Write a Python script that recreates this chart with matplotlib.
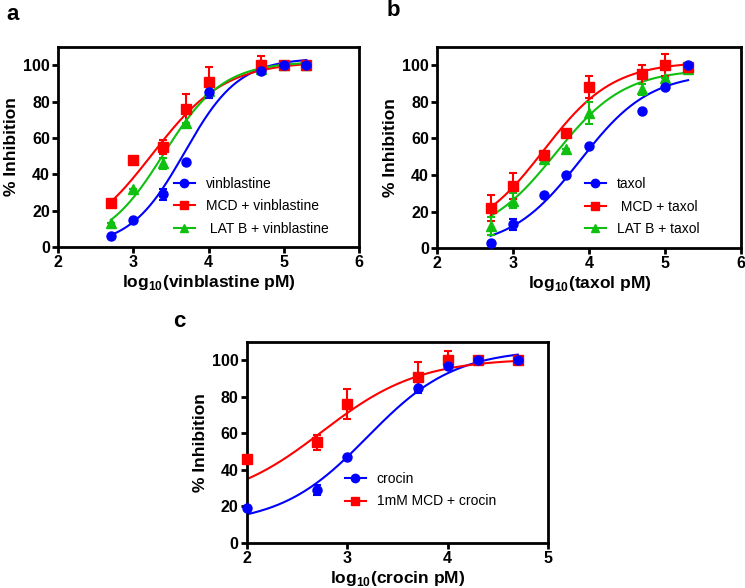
import matplotlib
matplotlib.use('Agg')
import matplotlib.pyplot as plt
import numpy as np

plt.rcParams['font.family'] = ['Liberation Sans', 'DejaVu Sans']
plt.rcParams['mathtext.fontset'] = 'custom'
plt.rcParams['mathtext.rm'] = 'Liberation Sans'
plt.rcParams['mathtext.bf'] = 'Liberation Sans:bold'

# ---- panel a: vinblastine ----
xa = [2.7, 3.0, 3.4, 3.7, 4.0, 4.7, 5.0, 5.3]
vin = [6, 15, 29, 47, 85, 97, 100, 100]
vin_err = [0, 0, 3, 0, 3, 1, 0, 0]
vin_mcd = [24, 48, 55, 76, 91, 100, 100, 100]
vin_mcd_err = [0, 0, 4, 8, 8, 5, 0, 0]
vin_lat = [13, 32, 46, 68, 86, 98, 100, 100]
vin_lat_err = [0, 0, 3, 0, 0, 0, 0, 0]
# fit params: bottom, top, logEC50, hill
fit_vin = [0, 104, 3.68, 1.2]
fit_vin_mcd = [0, 102, 3.25, 0.9]
fit_vin_lat = [0, 102, 3.40, 1.1]

# ---- panel b: taxol ----
xb = [2.7, 3.0, 3.4, 3.7, 4.0, 4.7, 5.0, 5.3]
tax = [3, 13, 29, 40, 56, 75, 88, 100]
tax_err = [0, 3, 0, 0, 0, 0, 0, 0]
tax_mcd = [22, 34, 51, 63, 88, 95, 100, 99]
tax_mcd_err = [7, 7, 0, 0, 6, 5, 6, 0]
tax_lat = [12, 26, 49, 54, 74, 87, 93, 98]
tax_lat_err = [5, 4, 0, 0, 6, 3, 0, 0]
fit_tax = [0, 96, 3.88, 0.95]
fit_tax_mcd = [5, 102, 3.40, 0.95]
fit_tax_lat = [5, 98, 3.55, 0.95]

# ---- panel c: crocin ----
xc = [2.0, 2.7, 3.0, 3.7, 4.0, 4.3, 4.7]
cro = [19, 29, 47, 85, 97, 100, 100]
cro_err = [0, 3, 0, 3, 0, 0, 0]
cro_mcd = [46, 55, 76, 91, 100, 100, 100]
cro_mcd_err = [0, 4, 8, 8, 5, 0, 0]
fit_cro = [10, 106, 3.20, 1.0]
fit_cro_mcd = [21, 101, 2.75, 0.9]

BLUE = '#0000ff'
RED = '#ff0000'
GREEN = '#10c010'


def logistic(x, p):
    b, t, ec, h = p
    return b + (t - b) / (1 + 10 ** ((ec - x) * h))


def series(ax, x, y, err, p, color, marker, label, x0, x1, z):
    xs = np.linspace(x0, x1, 200)
    ax.plot(xs, logistic(xs, p), color=color, lw=1.5, zorder=2)
    ax.errorbar(x, y, yerr=err, fmt='none', ecolor=color, elinewidth=1.5,
                capsize=3, capthick=1.5, zorder=3)
    ax.plot(x, y, marker, color=color, ms=6.5, ls='none', zorder=z, clip_on=False)
    ax.plot([], [], '-' + marker, color=color, ms=6, lw=1.5, label=label)


def style(ax, xlim, xticks, xlabel):
    ax.set_xlim(xlim)
    ax.set_ylim(0, 110)
    ax.set_xticks(xticks)
    ax.set_yticks([0, 20, 40, 60, 80, 100])
    for s in ax.spines.values():
        s.set_linewidth(2)
    ax.tick_params(width=2, length=4, labelsize=11.5, pad=2)
    for lab in ax.get_xticklabels() + ax.get_yticklabels():
        lab.set_fontweight('bold')
    ax.set_ylabel('% Inhibition', fontsize=12.5, fontweight='bold', labelpad=3)
    ax.set_xlabel(xlabel, fontsize=12.5, fontweight='bold', labelpad=2)


def legend(ax, x, y):
    ax.legend(loc='upper left', bbox_to_anchor=(x, y), frameon=False, fontsize=10,
              handlelength=1.5, handletextpad=0.8, labelspacing=0.62,
              borderpad=0, borderaxespad=0)


fig = plt.figure(figsize=(7.45, 5.88), dpi=100)

ax1 = fig.add_axes([0.078, 0.580, 0.404, 0.340])
series(ax1, xa, vin, vin_err, fit_vin, BLUE, 'o', 'vinblastine', 2.7, 5.3, 6)
series(ax1, xa, vin_mcd, vin_mcd_err, fit_vin_mcd, RED, 's', 'MCD + vinblastine', 2.7, 5.3, 5)
series(ax1, xa, vin_lat, vin_lat_err, fit_vin_lat, GREEN, '^', ' LAT B + vinblastine', 2.7, 5.3, 4)
style(ax1, (2, 6), [2, 3, 4, 5, 6], r'log$_{\mathbf{10}}$(vinblastine pM)')
legend(ax1, 0.385, 0.352)

ax2 = fig.add_axes([0.587, 0.578, 0.408, 0.342])
series(ax2, xb, tax, tax_err, fit_tax, BLUE, 'o', 'taxol', 2.7, 5.3, 6)
series(ax2, xb, tax_mcd, tax_mcd_err, fit_tax_mcd, RED, 's', ' MCD + taxol', 2.7, 5.3, 5)
series(ax2, xb, tax_lat, tax_lat_err, fit_tax_lat, GREEN, '^', 'LAT B + taxol', 2.7, 5.3, 4)
style(ax2, (2, 6), [2, 3, 4, 5, 6], r'log$_{\mathbf{10}}$(taxol pM)')
legend(ax2, 0.485, 0.354)

ax3 = fig.add_axes([0.3315, 0.0765, 0.404, 0.342])
series(ax3, xc, cro, cro_err, fit_cro, BLUE, 'o', 'crocin', 2.0, 4.7, 6)
series(ax3, xc, cro_mcd, cro_mcd_err, fit_cro_mcd, RED, 's', '1mM MCD + crocin', 2.0, 4.7, 5)
style(ax3, (2, 5), [2, 3, 4, 5], r'log$_{\mathbf{10}}$(crocin pM)')
legend(ax3, 0.325, 0.354)

fig.text(0.009, 0.966, 'a', fontsize=16, fontweight='bold', va='baseline')
fig.text(0.519, 0.972, 'b', fontsize=16, fontweight='bold', va='baseline')
fig.text(0.232, 0.444, 'c', fontsize=16, fontweight='bold', va='baseline')

fig.savefig('out.png', dpi=100)
